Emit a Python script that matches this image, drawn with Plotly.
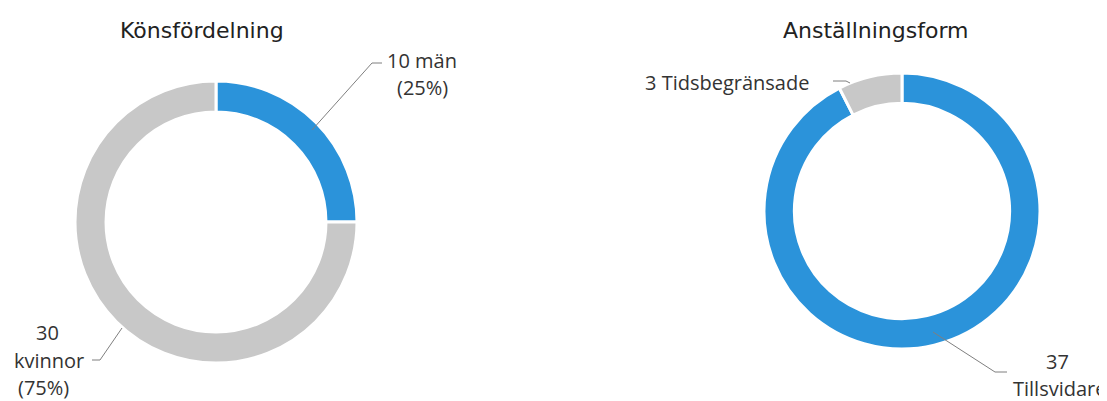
import plotly.graph_objects as go

W, H = 1107, 401
OFF = 8  # page body margin

# Könsfördelning
gender_labels = ["män", "kvinnor"]
gender_values = [10, 30]

# Anställningsform
employment_labels = ["Tillsvidare", "Tidsbegränsade"]
employment_values = [37, 3]

BLUE = "#2B93DA"
GRAY = "#C8C8C8"
LABEL_FONT = dict(family="Open Sans", size=20, color="#333333")
TITLE_FONT = dict(family="DejaVu Sans", size=22, color="#222222")


def px(x, y):
    # reference pixel -> paper coords (figure sits 8px into the page)
    return (x - OFF) / W, 1 - (y - OFF) / H


def domain(cx, cy, r):
    x0, y1 = px(cx - r, cy - r)
    x1, y0 = px(cx + r, cy + r)
    return dict(x=[x0, x1], y=[y0, y1])


fig = go.Figure()

fig.add_trace(go.Pie(
    labels=gender_labels,
    values=gender_values,
    hole=0.78,
    sort=False,
    direction="clockwise",
    rotation=0,
    textinfo="none",
    marker=dict(colors=[BLUE, GRAY], line=dict(color="white", width=3)),
    domain=domain(216, 222, 141),
    showlegend=False,
))

fig.add_trace(go.Pie(
    labels=employment_labels,
    values=employment_values,
    hole=0.78,
    sort=False,
    direction="clockwise",
    rotation=0,
    textinfo="none",
    marker=dict(colors=[BLUE, GRAY], line=dict(color="white", width=3)),
    domain=domain(902, 211, 138),
    showlegend=False,
))

g_total = sum(gender_values)

# text lines: (text, x, y, font)
texts = [
    ("Könsfördelning", 202, 30, TITLE_FONT),
    ("Anställningsform", 876, 30, TITLE_FONT),
    (f"{gender_values[0]} {gender_labels[0]}", 422, 60, LABEL_FONT),
    (f"({gender_values[0] / g_total:.0%})", 422, 87, LABEL_FONT),
    (f"{gender_values[1]}", 47, 332, LABEL_FONT),
    (gender_labels[1], 49, 360, LABEL_FONT),
    (f"({gender_values[1] / g_total:.0%})", 43, 387, LABEL_FONT),
    (f"{employment_values[1]} {employment_labels[1]}", 727, 82, LABEL_FONT),
    (f"{employment_values[0]}", 1057, 361, LABEL_FONT),
    (employment_labels[0], 1060, 388, LABEL_FONT),
]

annotations = []
for t, x, y, f in texts:
    ax, ay = px(x, y)
    annotations.append(dict(text=t, x=ax, y=ay, xref="paper", yref="paper",
                            xanchor="center", yanchor="middle",
                            showarrow=False, font=f))

# leader lines
leaders = [
    [(312, 130), (372, 63), (382, 63)],
    [(122, 328), (100, 360), (92, 360)],
    [(850, 83), (846, 81), (833, 81)],
    [(933, 332), (995, 372), (1007, 372)],
]
shapes = []
for pts in leaders:
    path = ""
    for i, (x, y) in enumerate(pts):
        a, b = px(x, y)
        path += ("M" if i == 0 else " L") + f" {a} {b}"
    shapes.append(dict(type="path", path=path, xref="paper", yref="paper",
                       line=dict(color="#7F7F7F", width=1)))

fig.update_layout(
    width=W,
    height=H,
    margin=dict(l=0, r=0, t=0, b=0),
    paper_bgcolor="white",
    plot_bgcolor="white",
    annotations=annotations,
    shapes=shapes,
)

fig.write_html("out.html")
